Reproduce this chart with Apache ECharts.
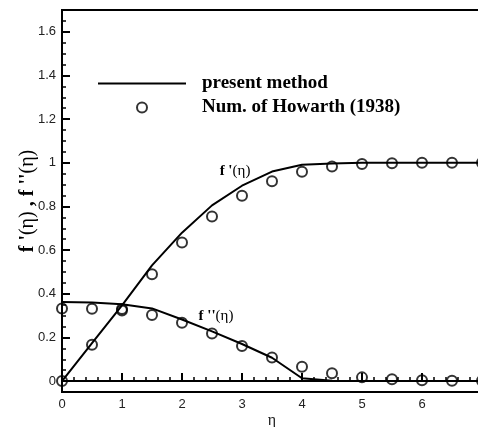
<!DOCTYPE html>
<html>
<head>
<meta charset="utf-8">
<script src="https://cdn.jsdelivr.net/npm/echarts@6/dist/echarts.min.js"></script>
<style>html,body{margin:0;padding:0;background:#fff}#c{width:478px;height:427px}</style>
</head>
<body>
<div id="c"></div>
<script>
const etaValues = [0, 0.5, 1, 1.5, 2, 2.5, 3, 3.5, 4, 4.5, 5, 5.5, 6, 6.5, 7];
const presentFp  = [0, 0.174, 0.347, 0.53, 0.68, 0.805, 0.895, 0.96, 0.991, 0.997, 1, 1, 1, 1, 1];
const presentFpp = [0.362, 0.360, 0.352, 0.333, 0.282, 0.228, 0.170, 0.107, 0.013, 0.002, 0, 0, 0, 0, 0];
const howarthFp  = [0, 0.166, 0.330, 0.489, 0.635, 0.754, 0.849, 0.916, 0.959, 0.983, 0.994, 0.998, 1.0, 1.0, 1.0];
const howarthFpp = [0.332, 0.331, 0.323, 0.303, 0.267, 0.218, 0.161, 0.108, 0.066, 0.036, 0.017, 0.008, 0.004, 0.002, 0.001];
const yTickValues = [0, 0.2, 0.4, 0.6, 0.8, 1, 1.2, 1.4, 1.6];
const xTickValues = [0, 1, 2, 3, 4, 5, 6, 7];

const pairs = (ys) => etaValues.map((x, i) => [x, ys[i]]);
const chart = echarts.init(document.getElementById('c'), null, {renderer: 'canvas'});
const labelFont = {fontFamily: 'Liberation Sans', fontSize: 13, color: '#222'};
const lineSeries = (ys) => ({
  type: 'line', name: 'present method', data: pairs(ys), symbol: 'none',
  lineStyle: {color: '#000', width: 2}, itemStyle: {color: '#000'}, z: 3, silent: true
});
const scatterSeries = (ys) => ({
  type: 'scatter', name: 'Num. of Howarth (1938)', data: pairs(ys), symbol: 'circle', symbolSize: 10,
  itemStyle: {color: 'rgba(0,0,0,0)', borderColor: '#000', borderWidth: 2}, clip: false, z: 4, silent: true
});
chart.setOption({
  animation: false,
  backgroundColor: '#fff',
  grid: {left: 62, top: 10, width: 420, height: 382, show: true, borderColor: '#000', borderWidth: 2,
         backgroundColor: 'transparent', containLabel: false, outerBoundsMode: 'none'},
  xAxis: {
    type: 'value', min: 0, max: 7, interval: 1,
    name: 'η', nameLocation: 'middle', nameGap: 21, nameMoveOverlap: false,
    nameTextStyle: {fontFamily: 'Liberation Serif', fontSize: 16, color: '#222'},
    axisLine: {show: true, lineStyle: {color: '#000', width: 2}},
    axisTick: {show: true, inside: true, length: 8, lineStyle: {color: '#000', width: 2}},
    minorTick: {show: true, splitNumber: 5, length: 4, lineStyle: {color: '#000', width: 1.5}},
    axisLabel: Object.assign({margin: 6, customValues: xTickValues, formatter: v => String(v)}, labelFont),
    splitLine: {show: false}
  },
  yAxis: [{
    type: 'value', min: -0.05, max: 1.7, interval: 0.05,
    axisLine: {show: true, lineStyle: {color: '#000', width: 2}},
    axisTick: {show: true, inside: true, length: 4, lineStyle: {color: '#000', width: 1.5}},
    axisLabel: {show: false}, splitLine: {show: false}
  }, {
    type: 'value', min: -0.05, max: 1.7, position: 'left', offset: 0,
    name: '{b|f \'}{n|(η)}{b| , f \'\'}{n|(η)}', nameLocation: 'middle', nameGap: 24, nameMoveOverlap: false,
    nameTextStyle: {rich: {
      b: {fontFamily: 'Liberation Serif', fontWeight: 'bold', fontSize: 20, color: '#000'},
      n: {fontFamily: 'Liberation Serif', fontSize: 20, color: '#000'}
    }},
    axisLine: {show: false},
    axisTick: {show: true, inside: true, length: 8, customValues: yTickValues, lineStyle: {color: '#000', width: 2}},
    axisLabel: Object.assign({margin: 6, customValues: yTickValues, formatter: v => String(v)}, labelFont),
    splitLine: {show: false}
  }],
  legend: {
    left: 93, top: 69, orient: 'vertical', itemWidth: 88, itemHeight: 10, itemGap: 5,
    selectedMode: false,
    data: [
      {name: 'present method', icon: 'path://M0,0H88V2H0Z'},
      {name: 'Num. of Howarth (1938)'}
    ],
    textStyle: {fontFamily: 'Liberation Serif', fontWeight: 'bold', fontSize: 19, color: '#000', lineHeight: 19, padding: [0, 0, 0, 11]}
  },
  graphic: [
    {type: 'text', x: 235, y: 171, silent: true, style: {
      text: '{b|f \'}{n|(η)}', align: 'center', verticalAlign: 'middle',
      rich: {b: {fontFamily: 'Liberation Serif', fontWeight: 'bold', fontSize: 15, fill: '#000'},
             n: {fontFamily: 'Liberation Serif', fontSize: 15, fill: '#000'}}}},
    {type: 'text', x: 216, y: 316, silent: true, style: {
      text: '{b|f \'\'}{n|(η)}', align: 'center', verticalAlign: 'middle',
      rich: {b: {fontFamily: 'Liberation Serif', fontWeight: 'bold', fontSize: 15, fill: '#000'},
             n: {fontFamily: 'Liberation Serif', fontSize: 15, fill: '#000'}}}}
  ],
  series: [
    lineSeries(presentFp), lineSeries(presentFpp),
    scatterSeries(howarthFp), scatterSeries(howarthFpp)
  ]
});
</script>
</body>
</html>
